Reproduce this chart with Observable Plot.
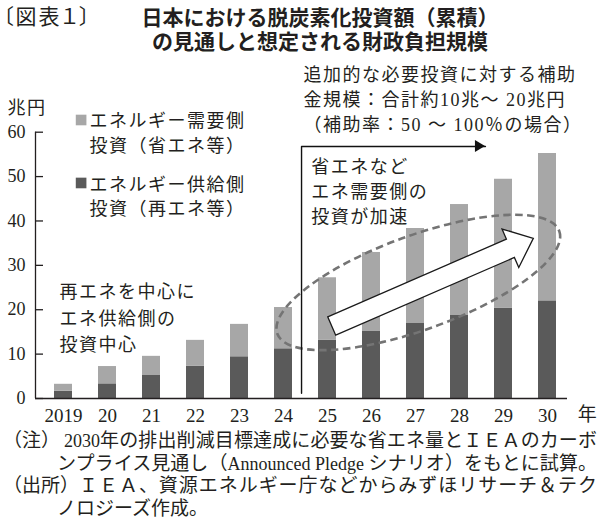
<!DOCTYPE html>
<html>
<head>
<meta charset="utf-8">
<script src="https://cdn.jsdelivr.net/npm/d3@7"></script>
<script src="https://cdn.jsdelivr.net/npm/@observablehq/plot@0.6"></script>
<style>
  html, body { margin: 0; padding: 0; background: #fff; }
  body { width: 600px; height: 524px; overflow: hidden; color: #231f20;
         font-family: "Liberation Serif", "Noto Sans CJK JP", serif; }
  #title { position: relative; height: 56px; }
  #title .fig { position: absolute; left: 3px; top: 3px; font-size: 21px; line-height: 25px;
                font-family: "Noto Sans CJK JP"; font-feature-settings: "palt"; letter-spacing: 2px; }
  #title .t { position: absolute; left: 120px; width: 400px; text-align: center;
              font-family: "Noto Sans CJK JP"; font-weight: 700;
              font-size: 21px; line-height: 23px; white-space: nowrap; }
  #notes { padding-top: 2px; font-size: 19px; line-height: 22.5px; }
  #notes .nl { display: flex; white-space: nowrap; padding-left: 3px; width: 594px; }
  #notes .lab { display: inline-block; min-width: 54px; }
  #notes .lab.w { min-width: 61px; }
  #notes .tx { flex: 1; }
  #notes .j { text-align: justify; text-align-last: justify; }
  #notes .lat { font-size: 18px; }
</style>
</head>
<body>
<div id="title">
  <div class="fig">〔図表１〕</div>
  <div class="t" style="top:5px;">日本における脱炭素化投資額（累積）</div>
  <div class="t" style="top:29px;">の見通しと想定される財政負担規模</div>
</div>
<div id="chart"></div>
<div id="notes">
  <div class="nl"><span class="lab w">（注）</span><span class="tx j"><span class="lat">2030</span>年の排出削減目標達成に必要な省エネ量とＩＥＡのカーボ</span></div>
  <div class="nl"><span class="lab"></span><span class="tx j">ンプライス見通し（<span class="lat">Announced Pledge </span>シナリオ）をもとに試算。</span></div>
  <div class="nl"><span class="lab">（出所）</span><span class="tx j">ＩＥＡ、資源エネルギー庁などからみずほリサーチ＆テク</span></div>
  <div class="nl"><span class="lab"></span><span class="tx">ノロジーズ作成。</span></div>
</div>
<script>
// ---- data ----
const years = [2019, 2020, 2021, 2022, 2023, 2024, 2025, 2026, 2027, 2028, 2029, 2030];
const yearLabels = ["2019", "20", "21", "22", "23", "24", "25", "26", "27", "28", "29", "30"];
// エネルギー供給側投資（再エネ等）, 兆円 (cumulative)
const supplyInv = [1.65, 3.3, 5.3, 7.3, 9.4, 11.2, 13.1, 15.1, 16.9, 18.7, 20.3, 22.0];
// エネルギー需要側投資（省エネ等）, 兆円 (cumulative)
const demandInv = [1.55, 3.9, 4.2, 5.8, 7.3, 9.3, 14.1, 17.8, 21.4, 25.0, 29.1, 33.2];
const yTicks = [0, 10, 20, 30, 40, 50, 60];
const legendLabels = ["エネルギー需要側\n投資（省エネ等）", "エネルギー供給側\n投資（再エネ等）"];
const unitLabel = "兆円";
const yearUnit = "年";
const noteLeft = "再エネを中心に\nエネ供給側の\n投資中心";
const noteRight = "省エネなど\nエネ需要側の\n投資が加速";
const noteTop = "追加的な必要投資に対する補助\n金規模：合計約10兆～ 20兆円\n（補助率：50 ～ 100％の場合）";

// ---- styles / layout ----
const colors = {demand: "#a7a7a7", supply: "#5a5a5a", ink: "#231f20"};
const font = '"Liberation Serif", "Noto Sans CJK JP", serif';

// annotation anchors in data units (year, 兆円)
const legendPos = [{x: 2019.40, y: 62.75, tx: 2019.59, ty: 60.1}, {x: 2019.40, y: 48.56, tx: 2019.59, ty: 45.85}];
const unitPos = {x: 2017.73, y: 65.46};
const yearUnitPos = {x: 2030.92, y: -3.6};
const noteLeftPos = {x: 2018.91, y: 18.48};
const noteRightPos = {x: 2024.63, y: 47.0};
const noteTopPos = {x: 2024.455, y: 67.7};
const periodArrow = [{x: 2024.41, y: 1.19}, {x: 2024.41, y: 56.78}, {x: 2028.59, y: 56.78}];
const ell = {x: 2027.075, y: 26.03, rx: 150, ry: 47, angle: -20};
const bigArrow = {x1: 2025.107, y1: 16.22, x2: 2029.689, y2: 35.98, shaft: 10, head: 21, headLen: 25};

const rows = years.map((year, i) => ({
  year, supply: supplyInv[i], demand: demandInv[i], total: supplyInv[i] + demandInv[i]
}));
const xDomain = [2019 - 28 / 44, 2019 + 504 / 44];

function overlays(index, scales) {
  const {x, y} = scales;
  const g = d3.create("svg:g");
  const cx = x(ell.x), cy = y(ell.y);
  g.append("ellipse")
    .attr("cx", cx).attr("cy", cy).attr("rx", ell.rx).attr("ry", ell.ry)
    .attr("transform", `rotate(${ell.angle} ${cx} ${cy})`)
    .attr("fill", "none").attr("stroke", "#747474").attr("stroke-width", 2.6)
    .attr("stroke-dasharray", "7.5 4.5");
  const tx = x(bigArrow.x1), ty = y(bigArrow.y1), px = x(bigArrow.x2), py = y(bigArrow.y2);
  const L = Math.hypot(px - tx, py - ty);
  const ux = (px - tx) / L, uy = (py - ty) / L, nx = -uy, ny = ux;
  const bx = px - ux * bigArrow.headLen, by = py - uy * bigArrow.headLen;
  const s = bigArrow.shaft, h = bigArrow.head;
  const pts = [
    [tx + nx * s, ty + ny * s], [bx + nx * s, by + ny * s], [bx + nx * h, by + ny * h],
    [px, py], [bx - nx * h, by - ny * h], [bx - nx * s, by - ny * s], [tx - nx * s, ty - ny * s]
  ];
  g.append("polygon").attr("points", pts.map(p => p.join(",")).join(" "))
    .attr("fill", "#fff").attr("stroke", "#1a1a1a").attr("stroke-width", 1.3)
    .attr("stroke-linejoin", "miter");
  return g.node();
}

function arrowHead(index, scales) {
  const {x, y} = scales;
  const last = periodArrow[periodArrow.length - 1];
  const hx = x(last.x), hy = y(last.y);
  return d3.create("svg:polygon")
    .attr("points", `${hx},${hy} ${hx - 10},${hy - 6} ${hx - 10},${hy + 6}`)
    .attr("fill", "#111").node();
}

const chart = Plot.plot({
  width: 600,
  height: 372,
  marginLeft: 35,
  marginRight: 33,
  marginTop: 75.7,
  marginBottom: 30,
  style: {fontFamily: font, fontSize: "18px", color: colors.ink, background: "#fff", overflow: "visible"},
  x: {type: "linear", domain: xDomain},
  y: {domain: [0, 60]},
  marks: [
    Plot.rect(rows, {x1: d => d.year - 0.5, x2: d => d.year + 0.5, y1: d => 0, y2: "supply",
                     fill: colors.supply, insetLeft: 13, insetRight: 13}),
    Plot.rect(rows, {x1: d => d.year - 0.5, x2: d => d.year + 0.5, y1: "supply", y2: "total",
                     fill: colors.demand, insetLeft: 13, insetRight: 13}),
    overlays,
    Plot.ruleY([0], {stroke: colors.ink, strokeWidth: 1.3}),
    Plot.ruleX([xDomain[0]], {y1: 0, y2: 60, stroke: colors.ink, strokeWidth: 1.3}),
    Plot.axisY(yTicks, {tickSize: -8, tickPadding: 18, fontSize: 18, label: null, stroke: colors.ink, strokeWidth: 1.3}),
    Plot.axisX(years, {tickSize: 0, tickPadding: 10, fontSize: 19, label: null,
                       tickFormat: d => yearLabels[years.indexOf(d)]}),
    Plot.line(periodArrow, {x: "x", y: "y", stroke: "#111", strokeWidth: 1.4, curve: "linear"}),
    arrowHead,
    Plot.dot(legendPos, {x: "x", y: "y", symbol: "square", r: 6.0, fill: [colors.demand, colors.supply], stroke: null}),
    Plot.text(legendPos, {x: "tx", y: "ty", text: (d, i) => legendLabels[i], textAnchor: "start",
                          lineAnchor: "middle", lineHeight: 1.36, fontSize: 18, fill: colors.ink}),
    Plot.text([unitLabel], {x: () => unitPos.x, y: () => unitPos.y, text: d => d, textAnchor: "start",
                            lineAnchor: "middle", fontSize: 18, fill: colors.ink}),
    Plot.text([yearUnit], {x: () => yearUnitPos.x, y: () => yearUnitPos.y, text: d => d,
                           lineAnchor: "middle", fontSize: 19, fill: colors.ink}),
    Plot.text([noteLeft], {x: () => noteLeftPos.x, y: () => noteLeftPos.y, text: d => d, textAnchor: "start",
                           lineAnchor: "middle", lineHeight: 1.47, fontSize: 18, fill: colors.ink}),
    Plot.text([noteRight], {x: () => noteRightPos.x, y: () => noteRightPos.y, text: d => d, textAnchor: "start",
                            lineAnchor: "middle", lineHeight: 1.39, fontSize: 18, fill: colors.ink}),
    Plot.text([noteTop], {x: () => noteTopPos.x, y: () => noteTopPos.y, text: d => d, textAnchor: "start",
                          lineAnchor: "middle", lineHeight: 1.39, fontSize: 18, fill: colors.ink})
  ]
});

d3.select(chart).selectAll('g[aria-label="text"] text').style("letter-spacing", "1.5px");
document.getElementById("chart").appendChild(chart);
</script>
</body>
</html>
